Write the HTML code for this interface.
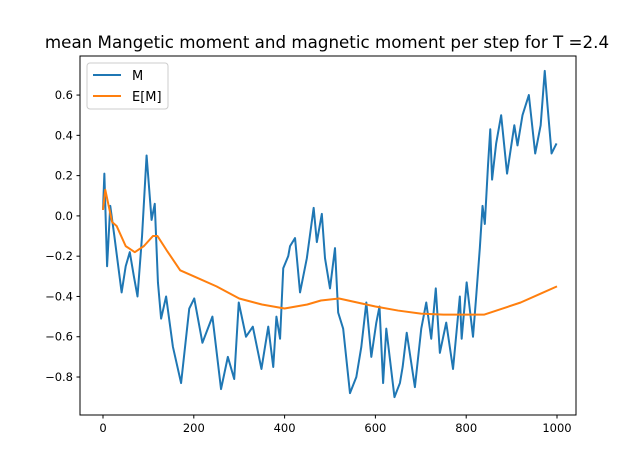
<!DOCTYPE html>
<html><head><meta charset="utf-8"><style>
body{margin:0;background:#fff;}
svg{font-family:"DejaVu Sans","Liberation Sans",sans-serif;}
</style></head><body>
<svg id="c" width="640" height="466" viewBox="0 0 640 466" xmlns="http://www.w3.org/2000/svg">
<rect width="640" height="466" fill="#fff"/>
<text x="327" y="48" font-size="16.7" text-anchor="middle">mean Mangetic moment and magnetic moment per step for T =2.4</text>
<g id="plot"></g>
<rect x="80" y="56" width="496" height="359" fill="none" stroke="#000" stroke-width="1"/>
<g>
<rect x="87" y="63" width="81" height="46" rx="3" fill="#fff" fill-opacity="0.8" stroke="#ccc"/>
<line x1="93" y1="75" x2="121" y2="75" stroke="#1f77b4" stroke-width="2"/>
<text x="132" y="80" font-size="13">M</text>
<line x1="93" y1="96" x2="121" y2="96" stroke="#ff7f0e" stroke-width="2"/>
<text x="132" y="101" font-size="13">E[M]</text>
</g>
</svg>
<script>
const mSteps=[0,3,9,16,25,41,50,59,68,76,86,96,107,114,121,128,139,154,172,190,201,219,241,260,275,289,299,315,330,349,364,375,382,390,397,408,412,423,434,449,464,471,482,489,500,511,518,529,544,558,569,580,591,602,609,617,624,642,654,660,669,687,701,712,723,733,742,756,771,786,790,801,815,822,830,836,841,848,853,857,866,877,890,906,913,924,938,952,964,973,979,988,999];
const mValues=[0.03,0.21,-0.25,0.05,-0.1,-0.38,-0.25,-0.18,-0.3,-0.40,-0.1,0.30,-0.02,0.06,-0.33,-0.51,-0.40,-0.65,-0.83,-0.46,-0.41,-0.63,-0.50,-0.86,-0.70,-0.81,-0.43,-0.60,-0.55,-0.76,-0.55,-0.75,-0.50,-0.61,-0.26,-0.20,-0.15,-0.11,-0.38,-0.21,0.04,-0.13,0.01,-0.21,-0.36,-0.16,-0.48,-0.56,-0.88,-0.80,-0.65,-0.43,-0.70,-0.53,-0.45,-0.83,-0.56,-0.90,-0.83,-0.75,-0.58,-0.85,-0.56,-0.43,-0.61,-0.36,-0.68,-0.53,-0.76,-0.40,-0.61,-0.33,-0.60,-0.40,-0.16,0.05,-0.04,0.25,0.43,0.18,0.36,0.50,0.21,0.45,0.35,0.50,0.60,0.31,0.45,0.72,0.55,0.31,0.36];
const eSteps=[0,5,20,30,50,70,90,110,120,140,170,200,250,300,350,400,450,480,520,560,600,650,700,750,800,840,880,920,960,1000];
const eValues=[0.03,0.13,-0.03,-0.05,-0.15,-0.18,-0.15,-0.1,-0.1,-0.17,-0.27,-0.3,-0.35,-0.41,-0.44,-0.46,-0.44,-0.42,-0.41,-0.43,-0.45,-0.47,-0.485,-0.49,-0.49,-0.49,-0.46,-0.43,-0.39,-0.35];
const xTicks=[0,200,400,600,800,1000];
const yTicks=[-0.8,-0.6,-0.4,-0.2,0.0,0.2,0.4,0.6];
const X=v=>103+v*0.454;
const Y=v=>215.9-v*201.4;
const NS='http://www.w3.org/2000/svg';
const g=document.getElementById('plot');
function mk(t,a){const e=document.createElementNS(NS,t);for(const k in a)e.setAttribute(k,a[k]);g.appendChild(e);return e;}
xTicks.forEach(t=>{
 const l=mk('line',{x1:X(t),x2:X(t),y1:415,y2:418.5,stroke:'#000'});
 
 
 const tx=mk('text',{x:X(t),y:432,'font-size':'11.5','text-anchor':'middle'});tx.textContent=t;
 
 
});
yTicks.forEach(t=>{
 const l=mk('line',{x1:76.5,x2:80,y1:Y(t),y2:Y(t),stroke:'#000'});
 
 
 const tx=mk('text',{x:73,y:Y(t)+4,'font-size':'11.5','text-anchor':'end'});tx.textContent=(t<0?'\u2212':'')+Math.abs(t).toFixed(1);
 
 
});
const pm=mk('polyline',{points:mSteps.map((s,i)=>X(s)+','+Y(mValues[i])).join(' '),fill:'none',stroke:'#1f77b4','stroke-width':'2','stroke-linejoin':'round'});


const pe=mk('polyline',{points:eSteps.map((s,i)=>X(s)+','+Y(eValues[i])).join(' '),fill:'none',stroke:'#ff7f0e','stroke-width':'2','stroke-linejoin':'round'});


</script>
</body></html>
